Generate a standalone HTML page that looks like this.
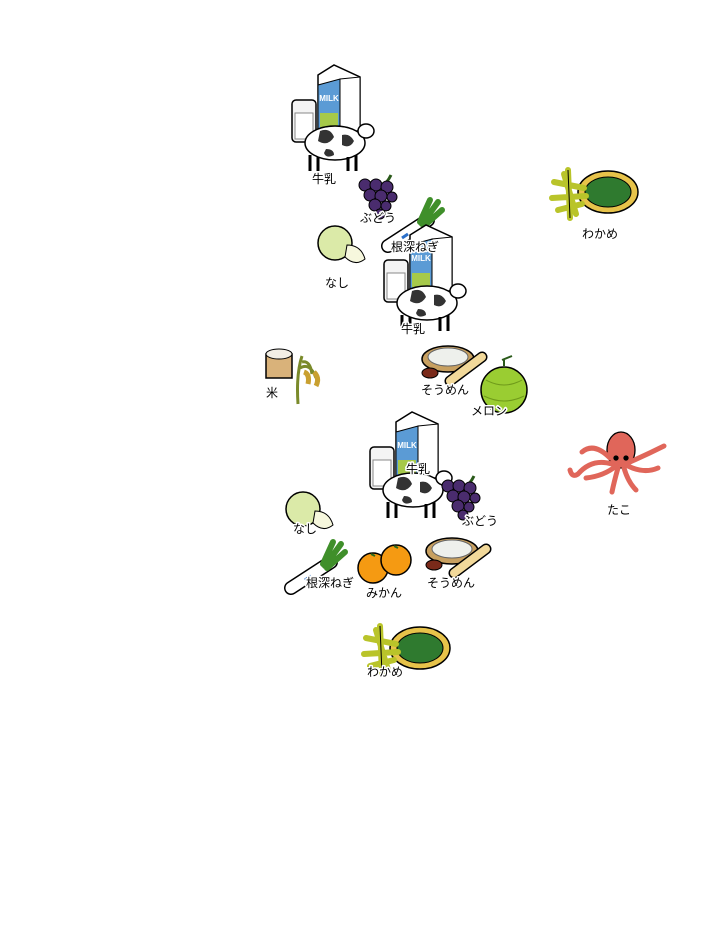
<!DOCTYPE html>
<html><head><meta charset="utf-8"><style>
html,body{margin:0;padding:0;background:#fff;}
svg{display:block}
text{font-family:"Liberation Sans","Noto Sans CJK JP",sans-serif;font-size:12px;fill:#000;text-anchor:middle;paint-order:stroke;stroke:#fff;stroke-width:3px;stroke-linejoin:round}
</style></head><body>
<svg width="704" height="930" viewBox="0 0 704 930" xmlns="http://www.w3.org/2000/svg">
<defs>
<g id="milk">
  <polygon points="28,10 44,0 70,12 70,65 40,72 28,65" fill="#fff" stroke="#000" stroke-width="1.5"/>
  <polygon points="28,20 50,14 50,70 28,65" fill="#5b9bd5" stroke="#000"/>
  <polygon points="50,14 70,12 70,65 50,70" fill="#fff" stroke="#000"/>
  <text x="39" y="36" style="font-size:8px;fill:#fff;font-weight:bold;stroke:none">MILK</text>
  <rect x="30" y="48" width="18" height="14" fill="#a6c94a"/>
  <rect x="2" y="35" width="24" height="42" rx="4" fill="#f4f4f4" stroke="#000" stroke-width="1.5"/>
  <rect x="5" y="48" width="18" height="26" fill="#fff" stroke="#888"/>
  <ellipse cx="45" cy="78" rx="30" ry="17" fill="#fff" stroke="#000" stroke-width="1.5"/>
  <path d="M30 66 q10 -4 14 6 q-6 10 -16 4z M52 70 q8 -2 12 6 q-4 8 -12 4z M36 84 q8 0 8 6 q-8 4 -10 -2z" fill="#333"/>
  <ellipse cx="76" cy="66" rx="8" ry="7" fill="#fff" stroke="#000" stroke-width="1.5"/>
  <path d="M20 90 v16 M28 92 v14 M58 92 v14 M66 90 v16" stroke="#000" stroke-width="3"/>
</g>
<g id="grape">
  <path d="M34 2 q-4 8 -8 10" stroke="#2a5a1a" stroke-width="3" fill="none"/>
  <g fill="#4a2c6e" stroke="#000">
   <circle cx="8" cy="12" r="6"/><circle cx="19" cy="12" r="6"/><circle cx="30" cy="14" r="6"/>
   <circle cx="13" cy="22" r="6"/><circle cx="24" cy="23" r="6"/><circle cx="35" cy="24" r="5"/>
   <circle cx="18" cy="32" r="6"/><circle cx="29" cy="33" r="5"/><circle cx="23" cy="41" r="5"/>
  </g>
</g>
<g id="negi">
  <path d="M4 46 L44 20" stroke="#000" stroke-width="14" stroke-linecap="round"/>
  <path d="M4 46 L44 20" stroke="#fff" stroke-width="11" stroke-linecap="round"/>
  <path d="M18 38 l6 -4" stroke="#2a6fc9" stroke-width="3"/>
  <path d="M38 24 L54 2 M40 26 L58 10 M36 22 L46 0" stroke="#3f8f2a" stroke-width="6" stroke-linecap="round"/>
</g>
<g id="nashi">
  <circle cx="18" cy="20" r="17" fill="#dbeaa8" stroke="#000" stroke-width="1.5"/>
  <path d="M30 22 q14 0 18 14 q-10 8 -20 -2z" fill="#f6f7dd" stroke="#000"/>
</g>
<g id="wakame">
  <ellipse cx="62" cy="24" rx="30" ry="21" fill="#e7c34a" stroke="#000" stroke-width="1.5"/>
  <ellipse cx="62" cy="24" rx="23" ry="15" fill="#2f7a2f" stroke="#000"/>
  <path d="M22 2 L24 50 M8 14 L38 20 M6 30 L40 28 M12 42 L36 36 M18 6 L30 46" stroke="#b9c42a" stroke-width="6" stroke-linecap="round"/>
  <path d="M22 2 L24 50" stroke="#000" stroke-width="1"/>
</g>
<g id="somen">
  <ellipse cx="28" cy="16" rx="26" ry="13" fill="#c8a060" stroke="#000" stroke-width="1.5"/>
  <ellipse cx="28" cy="14" rx="20" ry="9" fill="#eef0ec" stroke="#666"/>
  <path d="M30 38 L62 14" stroke="#000" stroke-width="11" stroke-linecap="round"/>
  <path d="M30 38 L62 14" stroke="#f2d99a" stroke-width="8" stroke-linecap="round"/>
  <ellipse cx="10" cy="30" rx="8" ry="5" fill="#7a2a1a" stroke="#000"/>
</g>
<g id="mikan">
  <circle cx="15" cy="24" r="15" fill="#f59a12" stroke="#000" stroke-width="1.5"/>
  <circle cx="38" cy="16" r="15" fill="#f59a12" stroke="#000" stroke-width="1.5"/>
  <path d="M13 10 l4 2 M36 2 l4 2" stroke="#2a6a1a" stroke-width="2"/>
</g>
</defs>

<use href="#milk" x="290" y="65"/>
<use href="#grape" x="357" y="173"/>
<use href="#negi" x="384" y="200"/>
<use href="#wakame" x="546" y="168"/>
<use href="#nashi" x="317" y="223"/>
<use href="#milk" x="382" y="225"/>
<g transform="translate(264,348)">
  <rect x="2" y="6" width="26" height="24" fill="#d9b27a" stroke="#000" stroke-width="1.5"/>
  <ellipse cx="15" cy="6" rx="13" ry="5" fill="#f3efe6" stroke="#000"/>
  <path d="M34 56 q-2 -30 4 -48 M36 20 q10 -6 16 10 M38 14 q8 -2 10 12" stroke="#7a8a2a" stroke-width="3" fill="none"/>
  <path d="M40 24 q6 2 4 12 M50 24 q6 6 2 14" stroke="#c9a030" stroke-width="5" fill="none"/>
</g>
<use href="#somen" x="420" y="343"/>
<g>
  <circle cx="504" cy="390" r="23" fill="#9acd32" stroke="#000" stroke-width="1.5"/>
  <path d="M504 366 l0 -6 M502 360 l10 -4" stroke="#2a5a1a" stroke-width="2"/>
  <path d="M486 380 q18 10 36 0 M484 396 q20 10 40 0" stroke="#6f9a1a" fill="none"/>
</g>
<use href="#milk" x="368" y="412"/>
<g transform="translate(568,428)" fill="#e0665a" stroke="#000" stroke-width="1.3">
  <ellipse cx="53" cy="22" rx="14" ry="18"/>
  <path d="M44 36 q-20 -6 -34 10 q-6 4 -8 -4 M48 38 q-12 10 -30 12 M50 40 q-4 14 -6 24 M56 40 q4 14 12 22 M60 38 q16 8 30 2 M62 34 q18 -8 34 -16 M42 30 q-16 -16 -28 -6"
        fill="none" stroke="#e0665a" stroke-width="5" stroke-linecap="round"/>
  <circle cx="48" cy="30" r="2" fill="#000"/><circle cx="58" cy="30" r="2" fill="#000"/>
</g>
<use href="#grape" x="440" y="474"/>
<use href="#nashi" x="285" y="489"/>
<use href="#negi" x="287" y="542"/>
<use href="#mikan" x="358" y="544"/>
<use href="#somen" x="424" y="535"/>
<use href="#wakame" x="358" y="624"/>

<text x="324" y="183">牛乳</text>
<text x="378" y="222">ぶどう</text>
<text x="415" y="251">根深ねぎ</text>
<text x="600" y="238">わかめ</text>
<text x="337" y="287">なし</text>
<text x="413" y="333">牛乳</text>
<text x="272" y="397">米</text>
<text x="445" y="394">そうめん</text>
<text x="489" y="415">メロン</text>
<text x="418" y="473">牛乳</text>
<text x="619" y="514">たこ</text>
<text x="480" y="525">ぶどう</text>
<text x="305" y="533">なし</text>
<text x="330" y="587">根深ねぎ</text>
<text x="384" y="597">みかん</text>
<text x="451" y="587">そうめん</text>
<text x="385" y="676">わかめ</text>
</svg>
</body></html>
